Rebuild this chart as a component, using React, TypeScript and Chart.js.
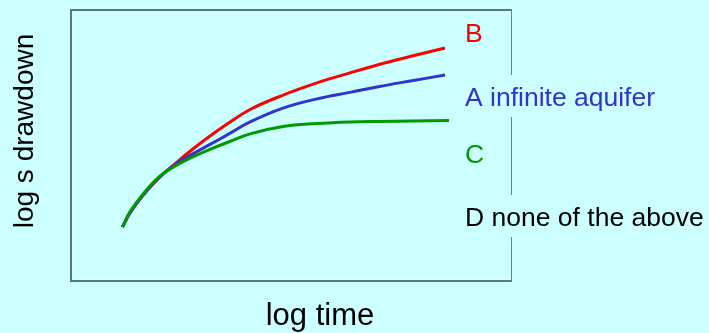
import React, { useEffect, useRef } from "react";
import { Chart, registerables } from "chart.js";

Chart.register(...registerables);

// log time (arbitrary units, axis 0..10)
const logTime = [1.17, 1.34, 1.64, 2.02, 2.41, 2.77, 3.16, 3.55, 4.07, 4.82, 5.59, 6.34, 6.98, 7.75, 8.5];
const logTimeC = [1.17, 1.34, 1.64, 2.02, 2.41, 2.77, 3.16, 3.55, 4.07, 4.82, 5.59, 6.34, 6.98, 7.75, 8.59];
// log s drawdown (arbitrary units, axis 0..10)
const drawdownB = [1.99, 2.51, 3.17, 3.84, 4.39, 4.87, 5.35, 5.79, 6.33, 6.86, 7.31, 7.68, 7.98, 8.3, 8.6];
const drawdownA = [1.99, 2.51, 3.17, 3.84, 4.35, 4.69, 5.04, 5.39, 5.87, 6.38, 6.72, 6.96, 7.17, 7.39, 7.6];
const drawdownC = [1.99, 2.55, 3.21, 3.87, 4.28, 4.58, 4.86, 5.11, 5.43, 5.7, 5.81, 5.87, 5.89, 5.9, 5.92];

const curveLabels = ["B", "A infinite aquifer", "C", "D none of the above"];
const labelColors = ["#ff0000", "#3333cc", "#009900", "#000000"];
const xTitle = "log time";
const yTitle = "log s drawdown";

const BG = "#ccffff";
const FONT = "'Liberation Sans', Arial, sans-serif";

const pts = (xs: number[], ys: number[]) => xs.map((x, i) => ({ x, y: ys[i] }));

const decorPlugin = {
  id: "decor",
  beforeDraw(chart: any) {
    const { ctx, width, height, chartArea } = chart;
    ctx.save();
    ctx.fillStyle = BG;
    ctx.fillRect(0, 0, width, height);
    const { left, top, right, bottom } = chartArea;
    ctx.strokeStyle = "#5a7676";
    ctx.lineWidth = 2;
    ctx.beginPath();
    ctx.moveTo(right, top);
    ctx.lineTo(left, top);
    ctx.lineTo(left, bottom);
    ctx.lineTo(right, bottom);
    ctx.stroke();
    ctx.strokeStyle = "#6a7f7f";
    ctx.lineWidth = 1;
    ctx.beginPath();
    ctx.moveTo(right + 0.5, top - 1);
    ctx.lineTo(right + 0.5, bottom + 1);
    ctx.stroke();
    ctx.restore();
  },
  afterDraw(chart: any) {
    const { ctx } = chart;
    ctx.save();
    const lx = 465;
    const baselines = [42, 106, 163, 226];
    ctx.font = `26.5px ${FONT}`;
    ctx.textBaseline = "alphabetic";
    ctx.textAlign = "left";
    curveLabels.forEach((t, i) => {
      const w = ctx.measureText(t).width;
      ctx.fillStyle = BG;
      ctx.fillRect(lx - 4, baselines[i] - 31, w + 8, 42);
      ctx.fillStyle = labelColors[i];
      ctx.fillText(t, lx, baselines[i]);
    });
    ctx.fillStyle = "#000000";
    ctx.font = `31px ${FONT}`;
    ctx.textAlign = "center";
    ctx.fillText(xTitle, 320, 325);
    ctx.translate(33, 131);
    ctx.rotate(-Math.PI / 2);
    ctx.font = `28px ${FONT}`;
    ctx.textAlign = "center";
    ctx.textBaseline = "alphabetic";
    ctx.fillText(yTitle, 0, 0);
    ctx.restore();
  },
};

export default function App() {
  const ref = useRef<HTMLCanvasElement | null>(null);
  useEffect(() => {
    document.body.style.margin = "0";
    document.body.style.background = BG;
    const canvas = ref.current!;
    const mk = (label: string, data: any, color: string) => ({
      label,
      data,
      borderColor: color,
      backgroundColor: color,
      borderWidth: 3,
      pointRadius: 0,
      fill: false,
      tension: 0.4,
    });
    const chart = new Chart(canvas, {
      type: "line",
      data: {
        datasets: [
          mk("C", pts(logTimeC, drawdownC), "#009900"),
          mk("A", pts(logTime, drawdownA), "#3333cc"),
          mk("B", pts(logTime, drawdownB), "#ff0000"),
        ],
      },
      options: {
        responsive: false,
        animation: false,
        layout: { padding: { left: 71, top: 10, right: 198, bottom: 52 } },
        plugins: { legend: { display: false }, tooltip: { enabled: false } },
        scales: {
          x: { type: "linear", min: 0, max: 10, display: false },
          y: { type: "linear", min: 0, max: 10, display: false },
        },
      },
      plugins: [decorPlugin],
    });
    return () => chart.destroy();
  }, []);
  return <canvas ref={ref} width={709} height={333} style={{ display: "block" }} />;
}
